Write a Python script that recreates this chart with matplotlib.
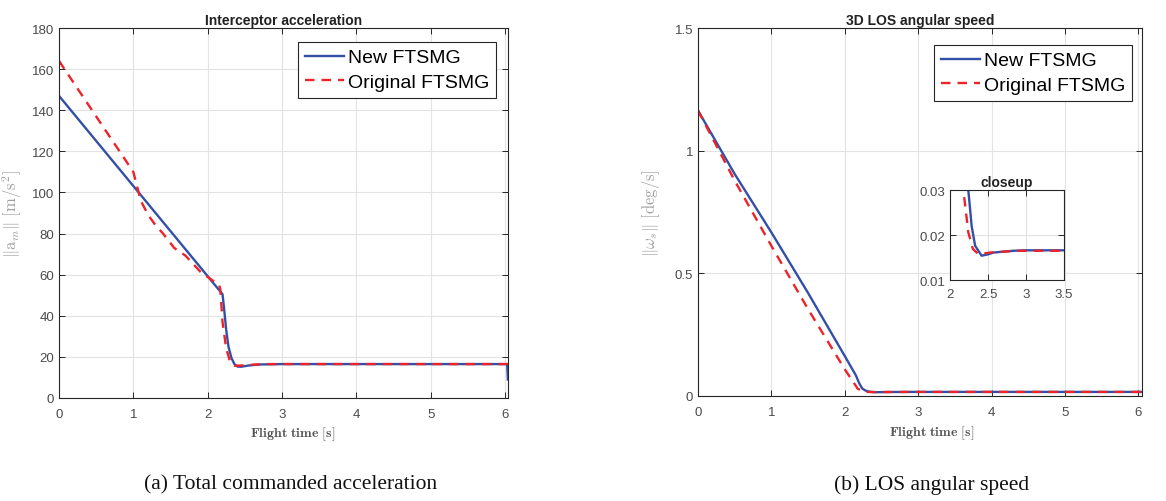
import matplotlib
matplotlib.use("Agg")
import matplotlib.pyplot as plt

plt.rcParams["font.family"] = ["Liberation Sans", "DejaVu Sans"]
plt.rcParams["mathtext.fontset"] = "cm"

# ---- data ----
# acceleration, new FTSMG
t_acc_new = [0, 2.2, 2.22, 2.25, 2.28, 2.32, 2.36, 2.40, 2.45, 2.55, 2.7, 3.0, 6.03, 6.04]
acc_new = [147, 50.5, 44, 33, 25, 19.5, 16.5, 15.3, 15.2, 15.8, 16.3, 16.5, 16.5, 9]
# acceleration, original FTSMG
t_acc_orig = [0, 1.0, 1.05, 1.1, 1.2, 1.3, 1.4, 1.55, 1.7, 1.9, 2.1, 2.15, 2.17, 2.18,
              2.2, 2.25, 2.3, 2.36, 2.45, 2.6, 2.8, 6.03, 6.04]
acc_orig = [164, 110, 103, 96, 89, 84, 80, 73, 69.3, 61.5, 56.3, 55.5, 53, 48,
            37, 24, 18, 15.7, 15.8, 16.2, 16.5, 16.5, 12.5]

# LOS angular speed, new FTSMG
t_los_new = [0, 0.5, 1.0, 1.5, 2.0, 2.15, 2.2, 2.24, 2.284, 2.33, 2.415, 2.5, 2.57,
             2.7, 2.83, 3.0, 6.05]
los_new = [1.164, 0.905, 0.667, 0.42, 0.163, 0.085, 0.05, 0.030, 0.022, 0.0176,
           0.0154, 0.0157, 0.0161, 0.0163, 0.0165, 0.0166, 0.0166]
# LOS angular speed, original FTSMG
t_los_orig = [0, 0.5, 1.0, 1.5, 2.0, 2.1, 2.15, 2.175, 2.24, 2.3, 2.37, 2.45, 2.52,
              2.7, 2.92, 6.05]
los_orig = [1.164, 0.878, 0.612, 0.354, 0.109, 0.064, 0.042, 0.030, 0.0206, 0.0169,
            0.0158, 0.0159, 0.0161, 0.0163, 0.0165, 0.0165]

labels = ["New FTSMG", "Original FTSMG"]
blue = "#3350a8"
red = "#ee2229"
dash = (0, (4, 3))
tick_col = "#4a4a4a"
edge_col = "#262626"


def style_axes(ax, fs=9.5, xpad=7):
    ax.grid(True, color="#e3e3e3", linewidth=0.8)
    ax.set_axisbelow(True)
    ax.tick_params(direction="in", top=True, right=True, length=4, width=0.7,
                   colors=edge_col, labelcolor=tick_col, labelsize=fs)
    ax.tick_params(axis="x", pad=xpad)
    for s in ax.spines.values():
        s.set_color(edge_col)
        s.set_linewidth(0.8)


def add_legend(ax, anchor):
    leg = ax.legend(loc="upper right", bbox_to_anchor=anchor, borderaxespad=0,
                    fontsize=14, handlelength=2.0, handletextpad=0.2,
                    labelspacing=0.35, borderpad=0.35, fancybox=False,
                    framealpha=1, edgecolor=edge_col)
    leg.get_frame().set_linewidth(0.8)


fig = plt.figure(figsize=(11.66, 5.02), dpi=100)

# ---- left: interceptor acceleration ----
ax1 = fig.add_axes([0.0506, 0.2052, 0.385, 0.737])
ax1.plot(t_acc_new, acc_new, color=blue, lw=1.7, label=labels[0])
ax1.plot(t_acc_orig, acc_orig, color=red, lw=1.7, ls=dash, label=labels[1])
ax1.set_xlim(0, 6.04)
ax1.set_ylim(0, 180)
ax1.set_xticks(range(0, 7))
ax1.set_yticks(range(0, 181, 20))
style_axes(ax1)
ax1.set_title("Interceptor acceleration", fontsize=10, fontweight="bold",
              color="#222222", pad=3)
ax1.set_xlabel(r"$\mathbf{Flight\ time\ [s]}$", fontsize=10, color="#555555")
ax1.xaxis.set_label_coords(0.521, -0.072)
ax1.set_ylabel(r"$\|\mathrm{a}_m\|\ [\mathrm{m/s^2}]$", fontsize=12, color="#a0a0a0")
ax1.yaxis.set_label_coords(-0.078, 0.5)
add_legend(ax1, (0.973, 0.962))

# ---- right: LOS angular speed ----
ax2 = fig.add_axes([0.5986, 0.2092, 0.3808, 0.733])
ax2.plot(t_los_new, los_new, color=blue, lw=1.7, label=labels[0])
ax2.plot(t_los_orig, los_orig, color=red, lw=1.7, ls=dash, label=labels[1])
ax2.set_xlim(0, 6.05)
ax2.set_ylim(0, 1.5)
ax2.set_xticks(range(0, 7))
ax2.set_yticks([0, 0.5, 1, 1.5])
ax2.set_yticklabels(["0", "0.5", "1", "1.5"])
style_axes(ax2)
ax2.set_title("3D LOS angular speed", fontsize=10, fontweight="bold",
              color="#222222", pad=3)
ax2.set_xlabel(r"$\mathbf{Flight\ time\ [s]}$", fontsize=10, color="#555555")
ax2.xaxis.set_label_coords(0.527, -0.075)
ax2.set_ylabel(r"$\|\omega_s\|\ [\mathrm{deg/s}]$", fontsize=12, color="#a0a0a0")
ax2.yaxis.set_label_coords(-0.082, 0.5)
add_legend(ax2, (0.977, 0.954))

# inset closeup
axi = fig.add_axes([0.8148, 0.4402, 0.0978, 0.1793])
axi.plot(t_los_new, los_new, color=blue, lw=1.7)
axi.plot(t_los_orig, los_orig, color=red, lw=1.7, ls=dash)
axi.set_xlim(2, 3.5)
axi.set_ylim(0.01, 0.03)
axi.set_xticks([2, 2.5, 3, 3.5])
axi.set_xticklabels(["2", "2.5", "3", "3.5"])
axi.set_yticks([0.01, 0.02, 0.03])
axi.set_yticklabels(["0.01", "0.02", "0.03"])
style_axes(axi, fs=9.5, xpad=6)
axi.set_title("closeup", fontsize=10, fontweight="bold", color="#222222", pad=3)

# captions
fig.text(0.249, 0.034, "(a) Total commanded acceleration", ha="center", va="center",
         fontsize=15.5, family="Liberation Serif", color="#111111")
fig.text(0.799, 0.034, "(b) LOS angular speed", ha="center", va="center",
         fontsize=15.5, family="Liberation Serif", color="#111111")

fig.savefig("out.png", dpi=100)
